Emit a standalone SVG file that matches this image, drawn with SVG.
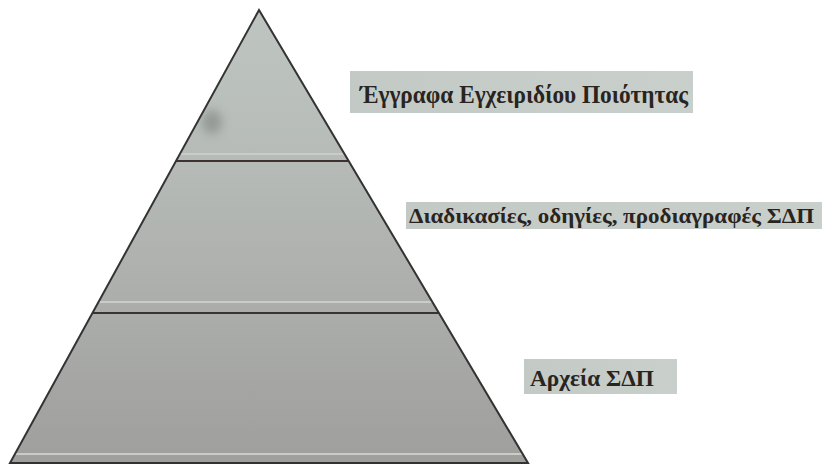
<svg xmlns="http://www.w3.org/2000/svg" width="823" height="465" viewBox="0 0 823 465">
<defs>
<linearGradient id="pyr" x1="0" y1="0" x2="0" y2="1">
<stop offset="0" stop-color="#bec5c0"/>
<stop offset="0.33" stop-color="#b6bbb7"/>
<stop offset="0.66" stop-color="#abadab"/>
<stop offset="1" stop-color="#9f9f9c"/>
</linearGradient>
<linearGradient id="lab" x1="0" y1="0" x2="1" y2="0">
<stop offset="0" stop-color="#c3cac6"/>
<stop offset="1" stop-color="#c9cfcb"/>
</linearGradient>
<filter id="blur" x="-1" y="-1" width="3" height="3"><feGaussianBlur stdDeviation="5"/></filter>
<clipPath id="tri"><polygon points="259,10 528,463 10,463"/></clipPath>
</defs>
<style>
.dark{stroke:#3d3230;stroke-width:2;fill:none}
.light{stroke:#c9cdca;stroke-width:2;fill:none}
.box{fill:url(#lab)}
.lbl{font-family:"Liberation Serif","DejaVu Serif",serif;font-weight:bold;fill:#2a2420}
</style>
<rect width="823" height="465" fill="#ffffff"/>
<g id="pyramid">
<polygon points="259,10 528,463 10,463" fill="url(#pyr)"/>
<g clip-path="url(#tri)">
<ellipse cx="212" cy="122" rx="10" ry="12" fill="#7d837f" opacity="0.6" filter="url(#blur)"/>
<line class="light" x1="0" y1="154" x2="823" y2="154"/>
<line class="dark" x1="0" y1="161" x2="823" y2="161"/>
<line class="light" x1="0" y1="302" x2="823" y2="302"/>
<line class="dark" x1="0" y1="313" x2="823" y2="313"/>
<line class="light" x1="0" y1="454" x2="823" y2="454"/>
</g>
<polygon points="259,10 528,463 10,463" fill="none" stroke="#333" stroke-width="2" stroke-linejoin="miter"/>
</g>
<g id="label-top">
<rect class="box" x="350" y="71" width="343" height="42"/>
<text class="lbl" x="360" y="103" font-size="25" textLength="328" lengthAdjust="spacingAndGlyphs">Έγγραφα Εγχειριδίου Ποιότητας</text>
</g>
<g id="label-middle">
<rect class="box" x="406" y="202" width="416" height="27"/>
<text class="lbl" x="409" y="223" font-size="22" textLength="405" lengthAdjust="spacingAndGlyphs">Διαδικασίες, οδηγίες, προδιαγραφές ΣΔΠ</text>
</g>
<g id="label-bottom">
<rect class="box" x="524" y="359" width="153" height="35"/>
<text class="lbl" x="530" y="386" font-size="24" textLength="124" lengthAdjust="spacingAndGlyphs">Αρχεία ΣΔΠ</text>
</g>
</svg>
